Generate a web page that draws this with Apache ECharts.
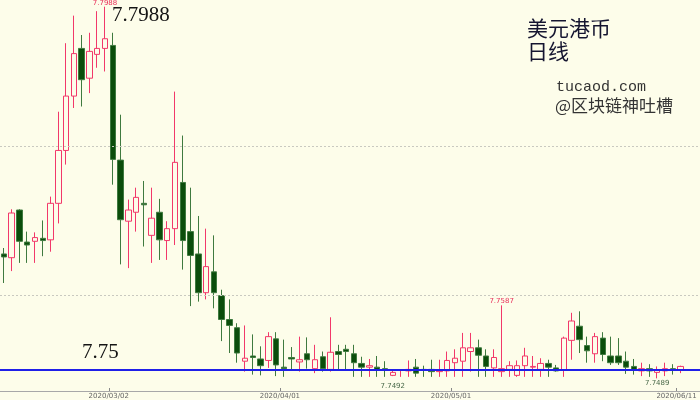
<!DOCTYPE html>
<html>
<head>
<meta charset="utf-8">
<script src="https://cdn.jsdelivr.net/npm/echarts@6/dist/echarts.min.js"></script>
<style>
html,body{margin:0;padding:0;background:#fdfdea;}
#c{width:700px;height:400px;}
</style>
</head>
<body>
<div id="c"></div>
<script>
const dates = [
 '2020/02/11','2020/02/12','2020/02/13','2020/02/14','2020/02/17','2020/02/18','2020/02/19','2020/02/20','2020/02/21','2020/02/24','2020/02/25','2020/02/26','2020/02/27','2020/02/28',
 '2020/03/02','2020/03/03','2020/03/04','2020/03/05','2020/03/06','2020/03/09','2020/03/10','2020/03/11','2020/03/12','2020/03/13','2020/03/16','2020/03/17','2020/03/18','2020/03/19','2020/03/20','2020/03/23','2020/03/24','2020/03/25','2020/03/26','2020/03/27','2020/03/30','2020/03/31',
 '2020/04/01','2020/04/02','2020/04/03','2020/04/06','2020/04/07','2020/04/08','2020/04/09','2020/04/10','2020/04/13','2020/04/14','2020/04/15','2020/04/16','2020/04/17','2020/04/20','2020/04/21','2020/04/22','2020/04/23','2020/04/24','2020/04/27','2020/04/28','2020/04/29','2020/04/30',
 '2020/05/01','2020/05/04','2020/05/05','2020/05/06','2020/05/07','2020/05/08','2020/05/11','2020/05/12','2020/05/13','2020/05/14','2020/05/15','2020/05/18','2020/05/19','2020/05/20','2020/05/21','2020/05/22','2020/05/25','2020/05/26','2020/05/27','2020/05/28','2020/05/29',
 '2020/06/01','2020/06/02','2020/06/03','2020/06/04','2020/06/05','2020/06/08','2020/06/09','2020/06/10','2020/06/11','2020/06/12','2020/06/15'
];
const opens = [
 7.7656,7.7651,7.7715,7.7672,7.7673,7.7677,7.7675,7.7724,7.7795,7.7868,7.7932,7.7892,7.7924,7.7932,
 7.7936,7.7782,7.7700,7.7712,7.7724,7.7681,7.7712,7.7674,7.7690,7.7752,7.7686,7.7656,7.7604,7.7632,7.7600,7.7568,7.7557,7.7512,7.7519,7.7515,7.7513,7.7542,
 7.7504,7.7517,7.7511,7.7522,7.7502,7.7518,7.7501,7.7525,7.7528,7.7522,7.7509,7.7504,7.7504,7.7502,7.7493,7.7500,7.7499,7.7504,7.7501,7.7501,7.7498,7.7499,
 7.7510,7.7512,7.7525,7.7530,7.7519,7.7503,7.7498,7.7501,7.7493,7.7506,7.7504,7.7501,7.7509,7.7503,7.7500,7.7540,7.7559,7.7533,7.7522,7.7543,7.7519,
 7.7519,7.7512,7.7505,7.7499,7.7502,7.7497,7.7499,7.7502,7.7500
];
const closes = [
 7.7652,7.7711,7.7673,7.7668,7.7678,7.7674,7.7724,7.7795,7.7868,7.7925,7.7890,7.7928,7.7932,7.7945,
 7.7783,7.7702,7.7715,7.7732,7.7722,7.7704,7.7675,7.7690,7.7779,7.7674,7.7654,7.7604,7.7639,7.7604,7.7568,7.7560,7.7523,7.7516,7.7517,7.7506,7.7545,7.7507,
 7.7502,7.7515,7.7514,7.7514,7.7514,7.7502,7.7524,7.7521,7.7525,7.7510,7.7504,7.7506,7.7501,7.7500,7.7497,7.7500,7.7501,7.7496,7.7500,7.7498,7.7499,7.7513,
 7.7516,7.7530,7.7530,7.7520,7.7505,7.7517,7.7502,7.7506,7.7506,7.7519,7.7505,7.7509,7.7504,7.7499,7.7543,7.7566,7.7541,7.7526,7.7545,7.7521,7.7510,
 7.7510,7.7504,7.7501,7.7502,7.7499,7.7500,7.7502,7.7500,7.7505
];
const lows = [
 7.7617,7.7633,7.7644,7.7644,7.7644,7.7653,7.7659,7.7697,7.7776,7.7852,7.7854,7.7872,7.7906,7.7901,
 7.7749,7.7642,7.7637,7.7686,7.7666,7.7644,7.7648,7.7648,7.7668,7.7635,7.7586,7.7592,7.7595,7.7583,7.7539,7.7523,7.7510,7.7498,7.7494,7.7493,7.7503,7.7492,
 7.7491,7.7501,7.7498,7.7502,7.7496,7.7498,7.7498,7.7501,7.7500,7.7491,7.7491,7.7491,7.7491,7.7491,7.7492,7.7491,7.7491,7.7491,7.7491,7.7491,7.7491,7.7491,
 7.7491,7.7491,7.7498,7.7491,7.7491,7.7491,7.7491,7.7491,7.7491,7.7491,7.7491,7.7491,7.7491,7.7498,7.7491,7.7514,7.7523,7.7510,7.7510,7.7512,7.7507,
 7.7507,7.7495,7.7494,7.7492,7.7491,7.7489,7.7492,7.7494,7.7496
];
const highs = [
 7.7664,7.7716,7.7716,7.7686,7.7685,7.7701,7.7733,7.7847,7.7939,7.7976,7.7950,7.7953,7.7982,7.7988,
 7.7953,7.7843,7.7729,7.7745,7.7754,7.7745,7.7730,7.7700,7.7874,7.7815,7.7745,7.7707,7.7690,7.7681,7.7608,7.7595,7.7563,7.7560,7.7548,7.7532,7.7551,7.7551,
 7.7541,7.7531,7.7545,7.7544,7.7534,7.7525,7.7571,7.7534,7.7534,7.7534,7.7518,7.7515,7.7519,7.7512,7.7500,7.7501,7.7513,7.7515,7.7506,7.7514,7.7514,7.7525,
 7.7528,7.7550,7.7550,7.7541,7.7528,7.7528,7.7587,7.7512,7.7513,7.7530,7.7519,7.7516,7.7514,7.7507,7.7545,7.7577,7.7579,7.7545,7.7550,7.7551,7.7545,
 7.7543,7.7525,7.7515,7.7510,7.7508,7.7505,7.7510,7.7508,7.7506
];
const labelDates = ['2020/03/02','2020/04/01','2020/05/01','2020/06/11'];
const highMarks = [13, 64];
const lowMarks = [50, 84];
const pegLevel = 7.75;
const gridLevels = [7.76, 7.78];

const bg = '#fdfdea';
const candles = opens.map((o, i) => [o, closes[i], lows[i], highs[i]]);

const markPts = [];
highMarks.forEach(i => markPts.push({
  coord: [i, highs[i]], value: highs[i].toFixed(4),
  label: {position: 'top', distance: 0, color: '#e8305a'}
}));
lowMarks.forEach((i, k) => markPts.push({
  coord: [i, lows[i]], value: lows[i].toFixed(4),
  label: {position: 'bottom', distance: k === 0 ? 6 : 1, color: '#4a6a4a'}
}));

const chart = echarts.init(document.getElementById('c'));
chart.setOption({
  backgroundColor: bg,
  animation: false,
  grid: {left: 0, right: 0, top: 0, bottom: 9},
  xAxis: {
    type: 'category',
    data: dates,
    boundaryGap: true,
    axisLine: {lineStyle: {color: '#a8a8a8', width: 1}},
    axisTick: {show: true, inside: true, length: 3, lineStyle: {color: '#888'},
      interval: (i, v) => labelDates.includes(v)},
    axisLabel: {fontSize: 7, color: '#666', margin: 2, padding: [0, 8, 0, 0],
      fontFamily: 'DejaVu Sans',
      interval: (i, v) => labelDates.includes(v)},
    splitLine: {show: false}
  },
  yAxis: {
    type: 'value', min: 7.7472, max: 7.7997, show: false,
    splitLine: {show: false}
  },
  series: [
    {
      type: 'line', data: [], z: 1,
      markLine: {
        silent: true, symbol: ['none', 'none'], label: {show: false},
        lineStyle: {color: '#c9c9c0', width: 1, type: [2, 2]},
        data: gridLevels.map(v => ({yAxis: v}))
      }
    },
    {
      type: 'candlestick',
      data: candles,
      barWidth: 6,
      z: 2,
      itemStyle: {
        color: bg, color0: '#0b4d0b',
        borderColor: '#f2386a', borderColor0: '#3f7a3f', borderWidth: 1
      },
      markLine: {
        silent: true, symbol: ['none', 'none'], label: {show: false},
        data: [{yAxis: pegLevel, lineStyle: {color: '#1f1fe8', width: 2, type: 'solid'}}]
      },
      markPoint: {
        symbol: 'circle', symbolSize: 1,
        itemStyle: {color: 'rgba(0,0,0,0)'},
        label: {show: true, fontSize: 7, fontFamily: 'DejaVu Sans', formatter: p => p.value},
        data: markPts
      }
    }
  ],
  graphic: [
    {type: 'text', left: 112, top: 5, style: {text: highs[13].toFixed(4), font: '21px "Liberation Serif"', fill: '#151515'}},
    {type: 'text', left: 82, top: 342, style: {text: pegLevel.toFixed(2), font: '21px "Liberation Serif"', fill: '#151515'}},
    {type: 'text', left: 527, top: 18, style: {text: '美元港币', font: '21px "Noto Sans CJK SC"', fill: '#151530'}},
    {type: 'text', left: 527, top: 41, style: {text: '日线', font: '21px "Noto Sans CJK SC"', fill: '#151530'}},
    {type: 'text', left: 556, top: 80, style: {text: 'tucaod.com', font: '15px "Liberation Mono"', fill: '#333'}},
    {type: 'text', left: 555, top: 97, style: {text: '@区块链神吐槽', font: '17px "Noto Sans CJK SC"', fill: '#333'}}
  ]
});
</script>
</body>
</html>
